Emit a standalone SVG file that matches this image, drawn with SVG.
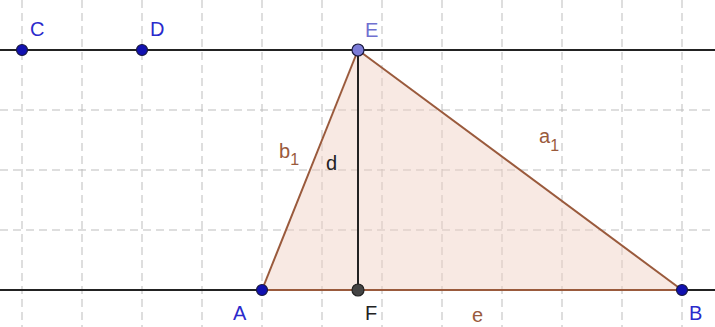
<svg xmlns="http://www.w3.org/2000/svg" width="715" height="327" viewBox="0 0 715 327">
<style>
.grid{stroke:#bdbdbd;stroke-width:1;stroke-dasharray:8,5;fill:none}
.ax{stroke:#222;stroke-width:2}
.seg{stroke:#9a5a3c;stroke-width:2;fill:none}
.lbl{font-family:"Liberation Sans",Arial,sans-serif;font-size:20px}
.blue{fill:#2a2acc}
.brown{fill:#9a5a3c}
.blk{fill:#222}
.pt{stroke:#1a1a40;stroke-width:1.2}
</style>
<rect width="715" height="327" fill="#ffffff"/>
<g id="grid">
<path class="grid" d="M22 0V327M82 0V327M142 0V327M202 0V327M262 0V327M322 0V327M382 0V327M442 0V327M502 0V327M562 0V327M622 0V327M682 0V327M0 110H715M0 170H715M0 230H715"/>
</g>
<g id="lines">
<line class="ax" x1="0" y1="50" x2="715" y2="50"/>
<line class="ax" x1="0" y1="290" x2="715" y2="290"/>
</g>
<g id="triangle">
<polygon points="262,290 358,50 682,290" fill="#f0cfc0" fill-opacity="0.45" stroke="none"/>
<line class="seg" x1="262" y1="290" x2="358" y2="50"/>
<line class="seg" x1="358" y1="50" x2="682" y2="290"/>
<line class="seg" x1="262" y1="290" x2="682" y2="290"/>
</g>
<g id="connectors">
<line class="ax" x1="358" y1="50" x2="358" y2="290"/>
</g>
<g id="pointC"><circle class="pt" cx="22" cy="50" r="5.5" fill="#1010b0"/><text class="lbl blue" x="30" y="36">C</text></g>
<g id="pointD"><circle class="pt" cx="142" cy="50" r="5.5" fill="#1010b0"/><text class="lbl blue" x="150" y="36">D</text></g>
<g id="pointE"><circle class="pt" cx="358" cy="50" r="6" fill="#7c7cd8"/><text class="lbl" fill="#7070d0" x="365" y="37">E</text></g>
<g id="pointA"><circle class="pt" cx="262" cy="290" r="5.5" fill="#1010b0"/><text class="lbl blue" x="233" y="320">A</text></g>
<g id="pointF"><circle cx="358" cy="290" r="6" fill="#444" stroke="#222" stroke-width="1.2"/><text class="lbl blk" x="365" y="320">F</text></g>
<g id="pointB"><circle class="pt" cx="682" cy="290" r="5.5" fill="#1010b0"/><text class="lbl blue" x="689" y="320">B</text></g>
<g id="labels">
<text class="lbl brown" x="279" y="158">b<tspan font-size="16" dy="7">1</tspan></text>
<text class="lbl blk" x="326" y="170">d</text>
<text class="lbl brown" x="539" y="143">a<tspan font-size="16" dy="8">1</tspan></text>
<text class="lbl brown" x="472" y="322">e</text>
</g>
</svg>
